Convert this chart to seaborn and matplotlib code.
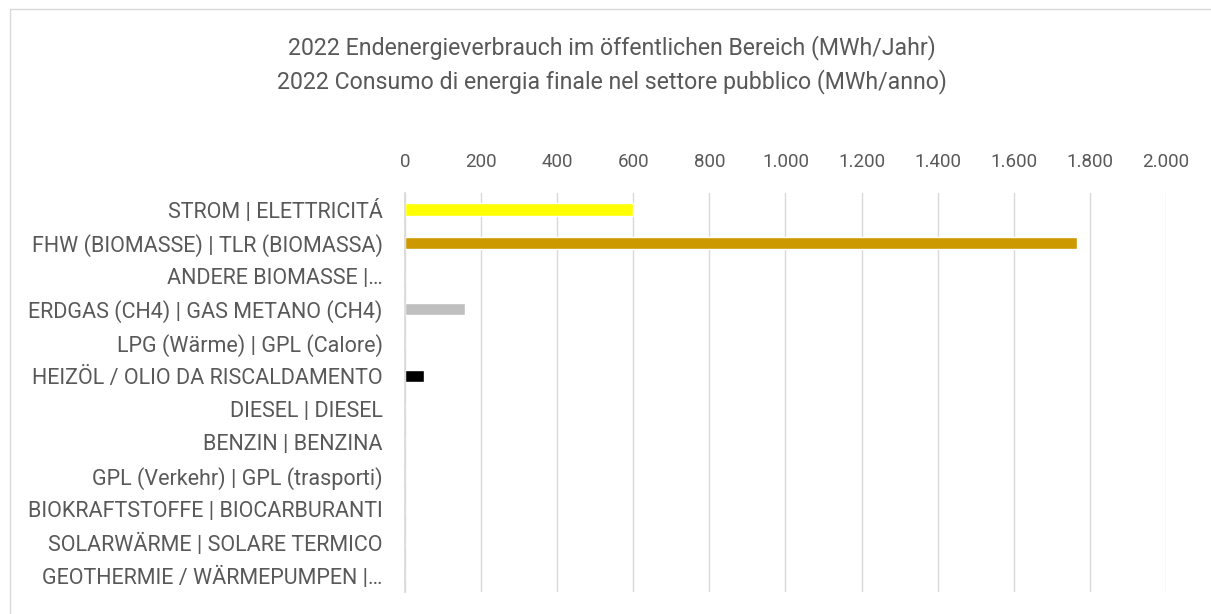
import pandas as pd
import seaborn as sns
import matplotlib.pyplot as plt

# data
categories = [
    'STROM | ELETTRICITÁ',
    'FHW (BIOMASSE) | TLR (BIOMASSA)',
    'ANDERE BIOMASSE |…',
    'ERDGAS (CH4) | GAS METANO (CH4)',
    'LPG (Wärme) | GPL (Calore)',
    'HEIZÖL / OLIO DA RISCALDAMENTO',
    'DIESEL | DIESEL',
    'BENZIN | BENZINA',
    'GPL (Verkehr) | GPL (trasporti)',
    'BIOKRAFTSTOFFE | BIOCARBURANTI',
    'SOLARWÄRME | SOLARE TERMICO',
    'GEOTHERMIE / WÄRMEPUMPEN |…',
]
values = [600, 1765, 0, 158, 0, 50, 0, 0, 0, 0, 0, 0]
colors = ['#FFFF00', '#CC9900', '#70AD47', '#BFBFBF', '#ED7D31', '#000000',
          '#5B9BD5', '#A5A5A5', '#4472C4', '#FFC000', '#264478', '#9E480E']
ticks = [0, 200, 400, 600, 800, 1000, 1200, 1400, 1600, 1800, 2000]

df = pd.DataFrame({'cat': categories, 'val': values})

sns.set_theme(style='white')
plt.rcParams['font.family'] = ['Roboto', 'DejaVu Sans']

fig = plt.figure(figsize=(12.11, 6.14), dpi=100)
ax = fig.add_axes([0.3344, 0.036, 0.6284, 0.65])

sns.barplot(data=df, x='val', y='cat', hue='cat', palette=colors,
            saturation=1, legend=False, width=0.37, ax=ax, orient='h')

ax.set_xlim(0, 2000)
ax.set_xticks(ticks)
ax.set_xticklabels([f'{t:,}'.replace(',', '.') for t in ticks])
ax.xaxis.tick_top()
ax.tick_params(axis='x', length=0, pad=16, labelsize=13.5, labelcolor='#595959')
ax.tick_params(axis='y', length=0, pad=16, labelsize=15.5, labelcolor='#595959')
ax.grid(axis='x', color='#D9D9D9', linewidth=1)
ax.set_axisbelow(True)
ax.set_xlabel('')
ax.set_ylabel('')
for s in ['top', 'right', 'bottom']:
    ax.spines[s].set_visible(False)
ax.spines['left'].set_color('#D9D9D9')

fig.text(0.505, 0.922, '2022 Endenergieverbrauch im öffentlichen Bereich (MWh/Jahr)',
         ha='center', va='center', fontsize=16.7, color='#595959')
fig.text(0.505, 0.868, '2022 Consumo di energia finale nel settore pubblico (MWh/anno)',
         ha='center', va='center', fontsize=16.7, color='#595959')

# thin frame around the chart area
frame = plt.Rectangle((0.008, -0.01), 1.2, 0.995, transform=fig.transFigure,
                      fill=False, edgecolor='#D9D9D9', linewidth=1)
fig.patches.append(frame)

fig.savefig('out.png', dpi=100)
